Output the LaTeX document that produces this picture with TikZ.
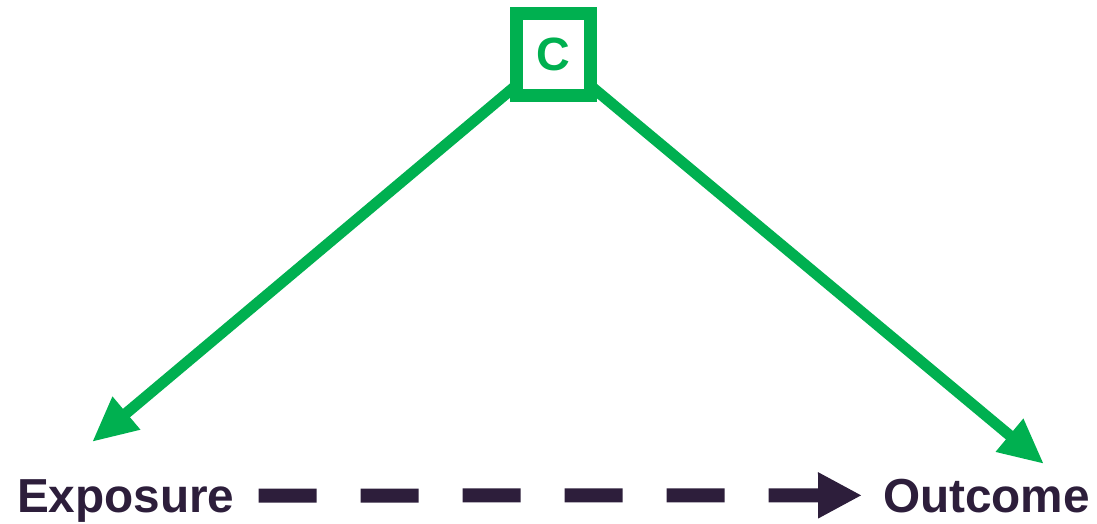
\documentclass[tikz,border=0pt]{standalone}
\usepackage{fontspec}
\setmainfont{Liberation Sans}
\usetikzlibrary{arrows.meta,backgrounds}
\definecolor{cgreen}{HTML}{00B050}
\definecolor{cdark}{HTML}{2D1E3B}
\begin{document}
\begin{tikzpicture}[x=0.75pt,y=-0.75pt,
  label/.style={inner sep=0pt,outer sep=0pt,text depth=0pt,text=cdark,
    font=\bfseries\fontsize{35.8}{40}\selectfont},
  confbox/.style={draw=cgreen,fill=white,line width=9.75pt,inner sep=0pt,outer sep=0pt,
    minimum width=55.5pt,minimum height=61.5pt,text=cgreen,
    font=\bfseries\fontsize{35}{40}\selectfont},
  causal/.style={draw=cgreen,line width=8.25pt,
    -{Triangle[length=33.75pt,width=30pt]}},
  effect/.style={draw=cdark,line width=10.5pt,dash pattern=on 43.5pt off 33pt,
    -{Triangle[length=33pt,width=32.25pt]}}]
\useasboundingbox (0,0) rectangle (1097,524);
% confounder box
\node[confbox] (C) at (553,54.5) {C};
% exposure and outcome labels
\node[label,anchor=base west] (Exposure) at (17,512) {Exposure};
\node[label,anchor=base west] (Outcome) at (883,512) {Outcome};
% arrow tips below the confounder
\coordinate (expTip) at (92,442);
\coordinate (outTip) at (1044,464);
\begin{pgfonlayer}{background}
  \draw[causal] (C.center) -- (expTip);
  \draw[causal] (C.center) -- (outTip);
\end{pgfonlayer}
% exposure -> outcome
\draw[effect,shorten <=18pt,shorten >=15.75pt] (Exposure.east) -- (Outcome.west);
\end{tikzpicture}
\end{document}
